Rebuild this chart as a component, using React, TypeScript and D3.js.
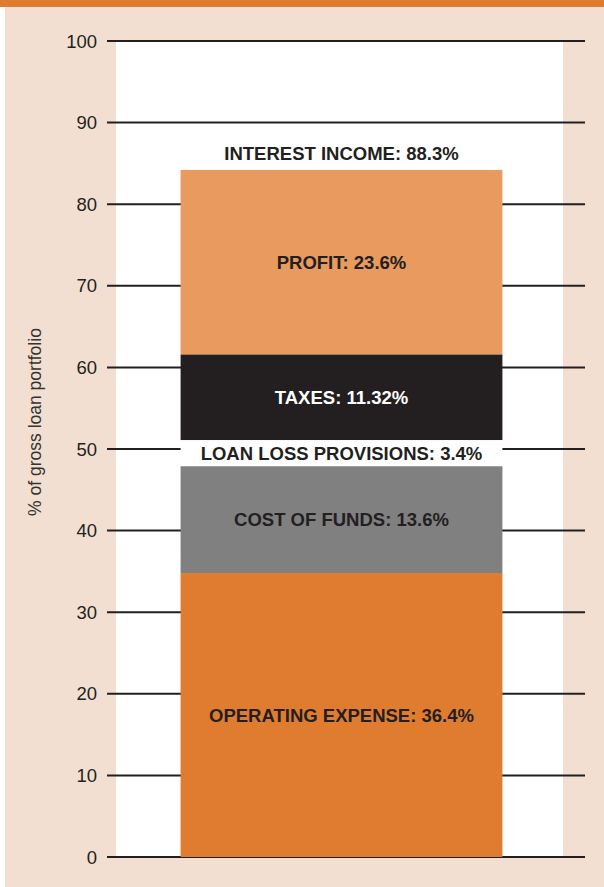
// @ts-nocheck
import React, { useEffect, useRef } from "react";
import * as d3 from "d3";

// stack segments, bottom to top
const segments = ["Operating expense", "Cost of funds", "Loan loss provisions", "Taxes", "Profit"];
// heights as drawn in the picture (% of gross loan portfolio)
const barValues = [34.8, 13.1, 3.2, 10.5, 22.6];
const segmentLabels = [
  "OPERATING EXPENSE: 36.4%",
  "COST OF FUNDS: 13.6%",
  "LOAN LOSS PROVISIONS: 3.4%",
  "TAXES: 11.32%",
  "PROFIT: 23.6%"
];
const totalLabel = "INTEREST INCOME: 88.3%";
const yTicks = [0, 10, 20, 30, 40, 50, 60, 70, 80, 90, 100];
const yTitle = "% of gross loan portfolio";

const fills = ["#E07C30", "#808080", "#FFFFFF", "#231F20", "#E89A5F"];
const labelColors = ["#231F20", "#231F20", "#231F20", "#FFFFFF", "#231F20"];

const App = () => {
  const ref = useRef();

  useEffect(() => {
    const width = 604,
      height = 887;
    const svg = d3.select(ref.current);
    svg.selectAll("*").remove();
    const font = "'Liberation Sans', Arial, Helvetica, sans-serif";

    // page background
    svg.append("rect").attr("width", width).attr("height", height).attr("fill", "#fff");
    svg.append("rect").attr("x", 5).attr("width", width - 5).attr("height", height).attr("fill", "#F2DFD1");
    svg.append("rect").attr("width", width).attr("height", 7).attr("fill", "#E07C30");

    const y = d3.scaleLinear().domain([0, 100]).range([857, 41]);
    const x = d3.scaleBand().domain(["portfolio"]).range([117, 566]).paddingInner(0.165).paddingOuter(0.165);

    // white plot panel
    svg
      .append("rect")
      .attr("x", 116)
      .attr("y", y(100))
      .attr("width", 563 - 116)
      .attr("height", y(0) - y(100))
      .attr("fill", "#fff");

    // gridlines + tick labels
    const axis = svg.append("g");
    axis
      .selectAll("line")
      .data(yTicks)
      .join("line")
      .attr("x1", 107)
      .attr("x2", 585)
      .attr("y1", d => y(d))
      .attr("y2", d => y(d))
      .attr("stroke", "#231F20")
      .attr("stroke-width", 2);
    axis
      .selectAll("text")
      .data(yTicks)
      .join("text")
      .attr("x", 97)
      .attr("y", d => y(d))
      .attr("dy", "0.36em")
      .attr("text-anchor", "end")
      .attr("font-family", font)
      .attr("font-size", 18.5)
      .attr("fill", "#231F20")
      .text(d => d);

    svg
      .append("text")
      .attr("transform", `translate(41,422) rotate(-90)`)
      .attr("text-anchor", "middle")
      .attr("font-family", font)
      .attr("font-size", 17.5)
      .attr("fill", "#333")
      .text(yTitle);

    // stacked bar
    const tops = Array.from(d3.cumsum(barValues));
    const rows = segments.map((s, i) => ({
      name: s,
      y0: i === 0 ? 0 : tops[i - 1],
      y1: tops[i],
      label: segmentLabels[i],
      fill: fills[i],
      color: labelColors[i]
    }));

    const bar = svg.append("g");
    bar
      .selectAll("rect")
      .data(rows)
      .join("rect")
      .attr("x", x("portfolio"))
      .attr("width", x.bandwidth())
      .attr("y", d => y(d.y1))
      .attr("height", d => y(d.y0) - y(d.y1))
      .attr("fill", d => d.fill);

    bar
      .selectAll("text")
      .data(rows)
      .join("text")
      .attr("x", x("portfolio") + x.bandwidth() / 2)
      .attr("y", d => (y(d.y0) + y(d.y1)) / 2)
      .attr("dy", "0.36em")
      .attr("text-anchor", "middle")
      .attr("font-family", font)
      .attr("font-weight", "bold")
      .attr("font-size", 18.5)
      .attr("fill", d => d.color)
      .text(d => d.label);

    svg
      .append("text")
      .attr("x", x("portfolio") + x.bandwidth() / 2)
      .attr("y", y(tops[tops.length - 1]) - 17)
      .attr("dy", "0.36em")
      .attr("text-anchor", "middle")
      .attr("font-family", font)
      .attr("font-weight", "bold")
      .attr("font-size", 18.5)
      .attr("fill", "#231F20")
      .text(totalLabel);
  }, []);

  return (
    <svg
      ref={ref}
      width={604}
      height={887}
      style={{ position: "absolute", left: 0, top: 0, display: "block" }}
    ></svg>
  );
};

export default App;
